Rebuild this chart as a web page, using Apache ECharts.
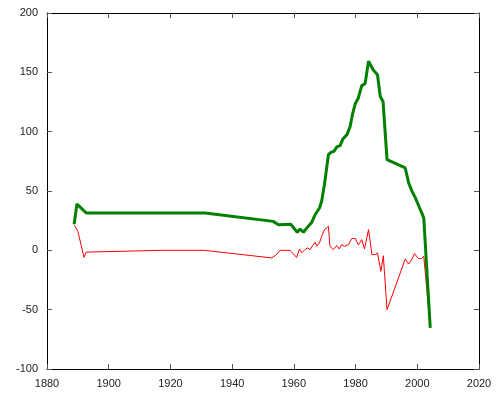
<!DOCTYPE html>
<html>
<head>
<meta charset="utf-8">
<script src="https://cdn.jsdelivr.net/npm/echarts@6/dist/echarts.min.js"></script>
<style>html,body{margin:0;padding:0;background:#fff}#c{width:500px;height:400px}</style>
</head>
<body>
<div id="c"></div>
<script>
var greenYears = [1888.8,1889.7,1892.7,1931.2,1953.3,1955,1959,1961.1,1962,1963.1,1964.2,1965.8,1966.9,1968.3,1969,1969.9,1971.2,1972,1973,1973.9,1975,1975.9,1977.2,1978.2,1979.1,1979.9,1980.9,1982,1983.1,1984.2,1985,1985.8,1987.1,1988,1988.9,1990.2,1996.1,1997.2,1998.3,1999.4,2002.1,2004.2];
var greenValues = [22,39,31.5,31.5,24.4,21.6,22,15.2,18,15.2,18.9,23.6,30,35.7,41.3,55.3,80.6,82.6,83.4,87.1,88.2,93.9,97.5,104,115.7,123.6,128.4,138.8,140.5,159.3,155.6,151.7,148,129.7,125.5,76.4,69.4,56.8,49.7,44.1,27.3,-65.4];
var redYears = [1888.9,1890,1892,1892.7,1917,1931,1952.8,1954.4,1955.5,1958.8,1960.9,1961.8,1962.6,1963.6,1964.4,1965.3,1966.1,1966.9,1967.4,1968.3,1969,1969.9,1971.2,1971.7,1972.8,1973.9,1974.7,1975.5,1976.4,1977.7,1978.8,1979.9,1980.9,1982,1982.9,1984.2,1985.3,1986.4,1987.1,1988.2,1989,1990.2,1996.1,1997.2,1998.3,1999.1,2000.4,2001.3,2002.1,2004.2];
var redValues = [21,16,-6,-1.5,0,0,-6.4,-3.6,0,0,-6,1,-2,0.6,2,0.6,4,6.7,3.4,6.2,11.8,17.4,20.2,3.4,0.6,4,1.2,4.8,3.4,4.8,10,10,4.5,9,1.2,17.4,-3.6,-3.6,-2.2,-17.7,-4.5,-50,-7.3,-11.5,-7.3,-2.8,-7,-7,-5,-65];
var xTicks = [1880,1900,1920,1940,1960,1980,2000,2020];
var yTicks = [-100,-50,0,50,100,150,200];

function pairs(xs, ys){ return xs.map(function(x,i){ return [x, ys[i]]; }); }

var chart = echarts.init(document.getElementById('c'), null, {renderer:'canvas'});
var labelStyle = {color:'#222', fontSize:11, fontFamily:'Liberation Sans, Arial, sans-serif'};
var axisLine = {show:true, onZero:false, lineStyle:{color:'#000', width:1}};
var tick = {show:true, inside:true, length:5, lineStyle:{color:'#555'}};
chart.setOption({
  animation:false,
  grid:{left:47, right:21, top:13, bottom:31, containLabel:false},
  xAxis:[
    {type:'value', min:xTicks[0], max:xTicks[xTicks.length-1], interval:20, position:'bottom',
     axisLine:axisLine, axisTick:tick, splitLine:{show:false},
     axisLabel:Object.assign({margin:9, formatter:function(v){return String(v);}}, labelStyle)},
    {type:'value', min:xTicks[0], max:xTicks[xTicks.length-1], interval:20, position:'top',
     axisLine:axisLine, axisTick:tick, splitLine:{show:false}, axisLabel:{show:false}}
  ],
  yAxis:[
    {type:'value', min:yTicks[0], max:yTicks[yTicks.length-1], interval:50, position:'left',
     axisLine:axisLine, axisTick:tick, splitLine:{show:false},
     axisLabel:Object.assign({margin:9}, labelStyle)},
    {type:'value', min:yTicks[0], max:yTicks[yTicks.length-1], interval:50, position:'right',
     axisLine:axisLine, axisTick:tick, splitLine:{show:false}, axisLabel:{show:false}}
  ],
  series:[
    {type:'line', data:pairs(redYears, redValues), showSymbol:false, symbol:'none',
     lineStyle:{color:'#ff0000', width:1}, z:2},
    {type:'line', data:pairs(greenYears, greenValues), showSymbol:false, symbol:'none',
     lineStyle:{color:'#008000', width:3}, z:3}
  ]
});
</script>
</body>
</html>
